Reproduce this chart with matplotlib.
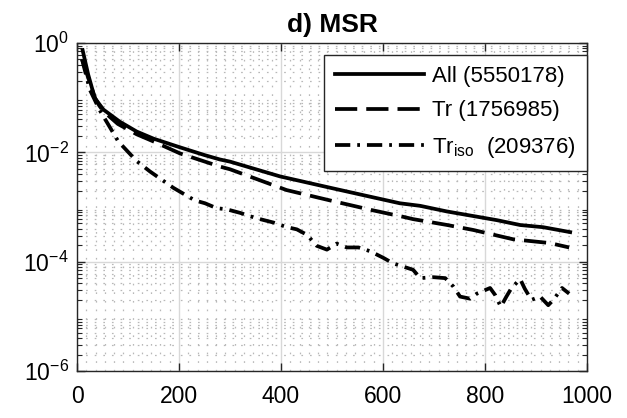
import matplotlib
matplotlib.use("Agg")
import matplotlib.pyplot as plt
from matplotlib.ticker import FixedLocator, LogLocator, MultipleLocator, NullFormatter

plt.rcParams['font.family'] = ['Liberation Sans', 'DejaVu Sans']
plt.rcParams['mathtext.fontset'] = 'custom'
plt.rcParams['mathtext.rm'] = 'Liberation Sans'
plt.rcParams['lines.scale_dashes'] = False

title = "d) MSR"
labels = ["All (5550178)", "Tr (1756985)", r"Tr$_\mathregular{iso}$  (209376)"]

x_all = [11, 22, 35, 52, 84, 117, 150, 199, 250, 280, 300, 398, 502, 574, 633, 673, 725, 823, 869, 914, 967]
y_all = [0.741, 0.263, 0.0977, 0.0603, 0.0363, 0.0240, 0.0178, 0.0126, 0.00891, 0.00741, 0.00676,
         0.00363, 0.00219, 0.00155, 0.00117, 0.00105, 8.3e-4, 5.75e-4, 4.68e-4, 4.27e-4, 3.47e-4]

x_tr = [10, 35, 44, 52, 80, 117, 150, 202, 280, 300, 411, 496, 548, 575, 640, 659, 725, 777, 855, 927, 965]
y_tr = [0.50, 0.10, 0.0708, 0.0562, 0.0331, 0.0214, 0.0158, 0.00955, 0.0055, 0.0049, 0.00204,
        0.00132, 0.00102, 8.9e-4, 6.6e-4, 6.0e-4, 4.7e-4, 3.8e-4, 2.57e-4, 2.19e-4, 1.82e-4]

x_iso = [10, 25, 44, 81, 117, 143, 189, 231, 251, 274, 293, 320, 350, 385, 411, 431, 451, 470, 490,
         509, 529, 552, 575, 601, 620, 640, 659, 673, 699, 722, 738, 751, 771, 784, 810, 820, 831,
         842, 852, 869, 878, 891, 908, 924, 934, 951, 965]
y_iso = [0.50, 0.141, 0.0603, 0.0158, 0.00692, 0.00447, 0.00224, 0.00132, 0.00117, 9.5e-4, 9.1e-4,
         7.8e-4, 6.3e-4, 5.2e-4, 4.3e-4, 3.9e-4, 3.1e-4, 1.95e-4, 1.66e-4, 2.14e-4, 1.82e-4, 1.82e-4,
         1.55e-4, 1.17e-4, 9.3e-5, 8.1e-5, 7.1e-5, 5.0e-5, 5.2e-5, 5.0e-5, 3.5e-5, 2.3e-5, 2.1e-5,
         2.6e-5, 3.3e-5, 2.45e-5, 1.5e-5, 2.3e-5, 3.3e-5, 4.8e-5, 3.2e-5, 2.0e-5, 2.3e-5, 1.6e-5,
         2.0e-5, 3.3e-5, 2.6e-5]

x_ticks = [0, 200, 400, 600, 800, 1000]
y_ticks = [1e-6, 1e-4, 1e-2, 1e0]

fig = plt.figure(figsize=(6.27, 4.18), dpi=100)
ax = fig.add_axes([77/627, 47/418, 510/627, 328/418])

lw = 2.7
ax.plot(x_all, y_all, color='black', lw=lw, linestyle='-', label=labels[0], solid_joinstyle='round')
ax.plot(x_tr, y_tr, color='black', lw=lw, linestyle=(0, (16, 6.5)), label=labels[1], dash_capstyle='butt')
ax.plot(x_iso, y_iso, color='black', lw=lw, linestyle=(0, (11, 5, 2, 5)), label=labels[2], dash_capstyle='butt')

ax.set_yscale('log')
ax.set_xlim(0, 1000)
ax.set_ylim(1e-6, 1e0)
ax.set_xticks(x_ticks)
ax.yaxis.set_major_locator(FixedLocator(y_ticks))
ax.yaxis.set_minor_locator(LogLocator(base=10, subs=range(2, 10), numticks=20))
ax.yaxis.set_minor_formatter(NullFormatter())
ax.xaxis.set_minor_locator(MultipleLocator(200/11))

ax.grid(True, which='major', color='#d8d8d8', lw=1.0, linestyle='-')
ax.grid(True, which='minor', color='#b8b8b8', lw=0.9, linestyle=(0, (1.2, 5.0)))
ax.set_axisbelow(True)

ax.tick_params(which='both', direction='in', top=True, right=True, labelsize=16.5, colors='#262626')
ax.tick_params(which='major', length=6, width=1)
ax.tick_params(which='minor', length=3.5, width=0.8)
ax.tick_params(axis='x', which='minor', length=0)
ax.tick_params(axis='x', which='major', pad=10)
ax.tick_params(axis='y', which='major', pad=6)
for lab in ax.get_xticklabels() + ax.get_yticklabels():
    lab.set_color('black')
for s in ax.spines.values():
    s.set_color('#262626')
    s.set_linewidth(1.0)

ax.set_title(title, fontsize=19, fontweight='bold', pad=8)

leg = ax.legend(loc='upper right', bbox_to_anchor=(1.0, 1 - 12/328), borderaxespad=0,
                fontsize=16, handlelength=4.0, handletextpad=0.35, labelspacing=0.6,
                borderpad=0.5, fancybox=False, framealpha=1, edgecolor='#262626')
leg.get_frame().set_linewidth(1.0)

fig.savefig('out.png', dpi=100)
